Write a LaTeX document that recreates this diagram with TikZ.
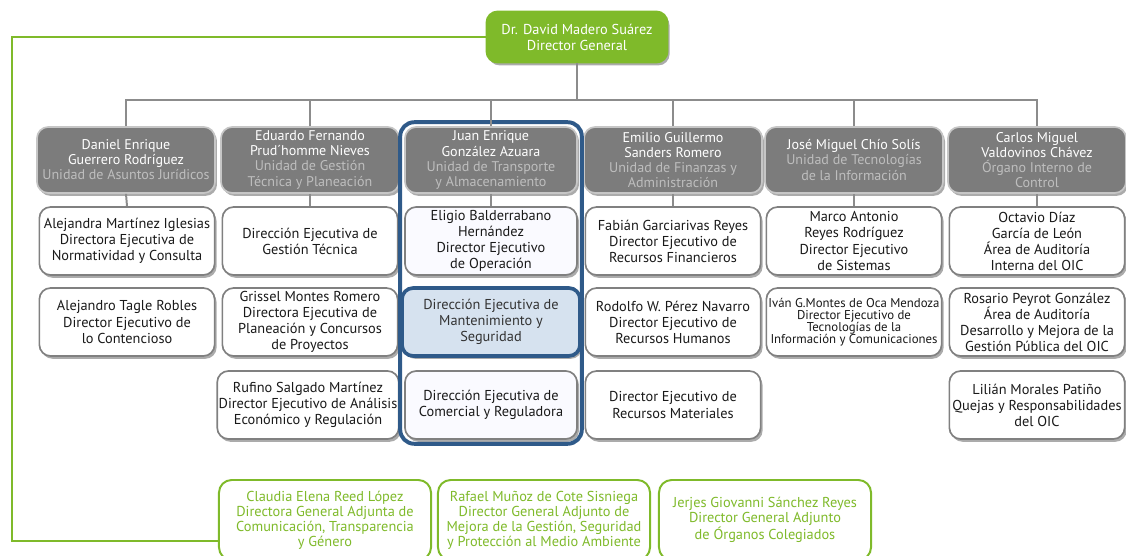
\documentclass[tikz,border=0pt]{standalone}
\usepackage{fontspec}
\setmainfont{PT Sans}
\usepackage{tikz}
\usetikzlibrary{shadows,fit}

\definecolor{verde}{HTML}{7FBA2A}
\definecolor{grisbox}{HTML}{7C7C7C}
\definecolor{grisunidad}{HTML}{BEBEBE}
\definecolor{grislinea}{HTML}{8C8C8C}
\definecolor{azul}{HTML}{2F5A89}
\definecolor{azulclaro}{HTML}{D6E2EF}

\tikzset{
    caja/.style={draw=black!50, line width=1.2pt, fill=white, rounded corners=8pt,
        minimum width=4.38cm, minimum height=1.7cm, align=center, inner sep=1pt,
        text=black!90, font=\fontsize{10.2}{11.4}\selectfont,
        drop shadow={shadow xshift=1.4pt, shadow yshift=-2pt, fill=black!60, opacity=0.55}},
    unidad/.style={caja, fill=grisbox, draw=gray!45, text=white,
        minimum width=4.45cm, minimum height=1.65cm, font=\fontsize{10}{10.7}\selectfont},
    seleccion/.style={caja, fill=azulclaro, draw=azul, line width=2.6pt, text=black!80},
    adjunto/.style={draw=verde, line width=1.4pt, fill=white, rounded corners=9pt,
        minimum width=5.3cm, minimum height=2cm, align=center, inner sep=1pt,
        text=verde, font=\fontsize{10.2}{10.7}\selectfont},
    marco/.style={draw=azul, line width=2.8pt, rounded corners=10pt, inner sep=2.8pt},
    enlace/.style={draw=grislinea, line width=1.4pt},
    enlaceverde/.style={draw=verde, line width=1.4pt}
}

\begin{document}
\begin{tikzpicture}[x=0.025cm,y=-0.025cm]
    \useasboundingbox (0,0) rectangle (1126,556);
    \clip (0,0) rectangle (1126,556);

    % director general
    \node[caja, fill=verde, draw=verde, text=white, minimum width=4.53cm, minimum height=1.28cm]
        (dg) at (577,37) {Dr. David Madero Suárez\\Director General};

    % unidades
    \node[unidad] (h1) at (126,160)
        {Daniel Enrique\\Guerrero Rodríguez\\\textcolor{grisunidad}{Unidad de Asuntos Jurídicos}};
    \node[unidad] (h2) at (310,160)
        {Eduardo Fernando\\Prud´homme Nieves\\\textcolor{grisunidad}{Unidad de Gestión}\\\textcolor{grisunidad}{Técnica y Planeación}};
    \node[unidad, minimum width=4.3cm] (h3) at (491,160)
        {Juan Enrique\\González Azuara\\\textcolor{grisunidad}{Unidad de Transporte}\\\textcolor{grisunidad}{y Almacenamiento}};
    \node[unidad] (h4) at (673,160)
        {Emilio Guillermo\\Sanders Romero\\\textcolor{grisunidad}{Unidad de Finanzas y}\\\textcolor{grisunidad}{Administración}};
    \node[unidad] (h5) at (854,160)
        {José Miguel Chío Solís\\\textcolor{grisunidad}{Unidad de Tecnologías}\\\textcolor{grisunidad}{de la Información}};
    \node[unidad] (h6) at (1037,160)
        {Carlos Miguel\\Valdovinos Chávez\\\textcolor{grisunidad}{Órgano Interno de}\\\textcolor{grisunidad}{Control}};

    % direcciones ejecutivas
    \node[caja] (c11) at (127,241)
        {Alejandra Martínez Iglesias\\Directora Ejecutiva de\\Normatividad y Consulta};
    \node[caja] (c12) at (127,322)
        {Alejandro Tagle Robles\\Director Ejecutivo de\\lo Contencioso};

    \node[caja] (c21) at (310,241)
        {Dirección Ejecutiva de\\Gestión Técnica};
    \node[caja] (c22) at (310,322)
        {Grissel Montes Romero\\Directora Ejecutiva de\\Planeación y Concursos\\de Proyectos};
    \node[caja] (c23) at (308,405)
        {Rufino Salgado Martínez\\Director Ejecutivo de Análisis\\Económico y Regulación};

    \node[caja, fill=blue!2, minimum width=4.3cm] (c31) at (491,241)
        {Eligio Balderrabano\\Hernández\\Director Ejecutivo\\de Operación};
    \node[seleccion, minimum width=4.45cm] (c32) at (491,322)
        {Dirección Ejecutiva de\\Mantenimiento y\\Seguridad};
    \node[caja, fill=blue!2, minimum width=4.3cm] (c33) at (491,405)
        {Dirección Ejecutiva de\\Comercial y Reguladora};

    \node[caja] (c41) at (673,241)
        {Fabián Garciarivas Reyes\\Director Ejecutivo de\\Recursos Financieros};
    \node[caja] (c42) at (673,322)
        {Rodolfo W. Pérez Navarro\\Director Ejecutivo de\\Recursos Humanos};
    \node[caja] (c43) at (673,405)
        {Director Ejecutivo de\\Recursos Materiales};

    \node[caja] (c51) at (854,241)
        {Marco Antonio\\Reyes Rodríguez\\Director Ejecutivo\\de Sistemas};
    \node[caja, font=\fontsize{9.1}{8.6}\selectfont] (c52) at (854,322)
        {Iván G.Montes de Oca Mendoza\\Director Ejecutivo de\\Tecnologías de la\\Información y Comunicaciones};

    \node[caja] (c61) at (1037,241)
        {Octavio Díaz\\García de León\\Área de Auditoría\\Interna del OIC};
    \node[caja] (c62) at (1037,322)
        {Rosario Peyrot González\\Área de Auditoría\\Desarrollo y Mejora de la\\Gestión Pública del OIC};
    \node[caja] (c63) at (1037,405)
        {Lilián Morales Patiño\\Quejas y Responsabilidades\\del OIC};

    \node[marco, fit=(h3)(c33)] (col3) {};

    % adjuntos
    \node[adjunto] (g1) at (325,520)
        {Claudia Elena Reed López\\Directora General Adjunta de\\Comunicación, Transparencia\\y Género};
    \node[adjunto] (g2) at (544,520)
        {Rafael Muñoz de Cote Sisniega\\Director General Adjunto de\\Mejora de la Gestión, Seguridad\\y Protección al Medio Ambiente};
    \node[adjunto] (g3) at (765,520)
        {Jerjes Giovanni Sánchez Reyes\\Director General Adjunto\\de Órganos Colegiados};

    % lineas
    \coordinate (bar) at (577,100);
    \coordinate (esq) at (12,541);
    \path[enlace] (dg.south) -- (bar);
    \foreach \h in {h1,h2,h3,h4,h5,h6}
        \path[enlace] (\h.north) |- (bar);
    \foreach \c in {1,...,6}
        \path[enlace] (h\c.south) -- (c\c1.north);
    \path[enlaceverde] (dg.west) -| (esq) -- (esq -| g1.west);
\end{tikzpicture}
\end{document}
